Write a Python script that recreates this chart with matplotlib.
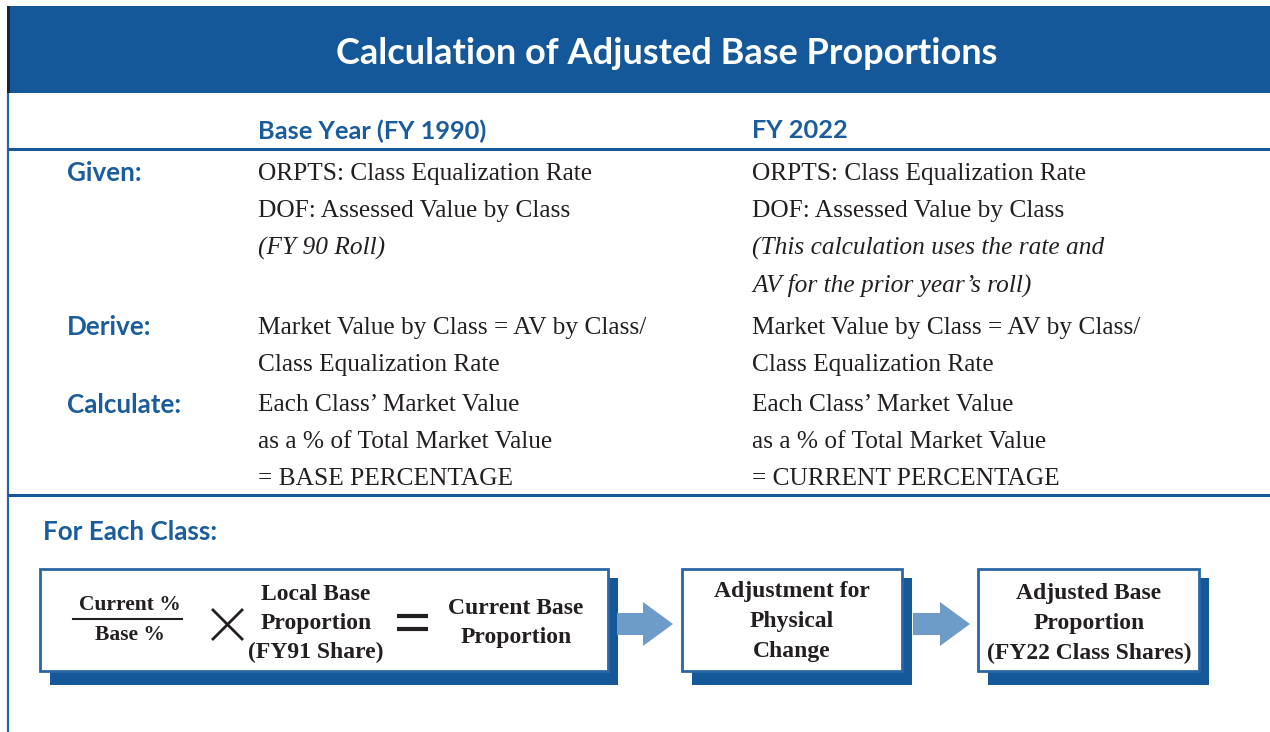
import matplotlib
matplotlib.use("Agg")
import matplotlib.pyplot as plt
from matplotlib.patches import Rectangle, FancyArrow

# ---------------- content ----------------
title = "Calculation of Adjusted Base Proportions"
column_headers = ["Base Year (FY 1990)", "FY 2022"]
row_labels = ["Given:", "Derive:", "Calculate:"]
given_base = ["ORPTS: Class Equalization Rate", "DOF: Assessed Value by Class", "(FY 90 Roll)"]
given_current = ["ORPTS: Class Equalization Rate", "DOF: Assessed Value by Class",
                 "(This calculation uses the rate and", "AV for the prior year\u2019s roll)"]
derive_lines = ["Market Value by Class = AV by Class/", "Class Equalization Rate"]
calc_base = ["Each Class\u2019 Market Value", "as a % of Total Market Value", "= BASE PERCENTAGE"]
calc_current = ["Each Class\u2019 Market Value", "as a % of Total Market Value", "= CURRENT PERCENTAGE"]
section_label = "For Each Class:"
fraction = ["Current %", "Base %"]
local_base = ["Local Base", "Proportion", "(FY91 Share)"]
current_base = ["Current Base", "Proportion"]
adjustment = ["Adjustment for", "Physical", "Change"]
adjusted = ["Adjusted Base", "Proportion", "(FY22 Class Shares)"]

# ---------------- styles ----------------
DARK = "#14589a"
TEXTBLUE = "#1b5c9c"
LIGHT = "#6c9cc7"
BORDER = "#2a66a6"
SANS = "Lato"
SERIF = "Liberation Serif"

fig = plt.figure(figsize=(12.7, 7.32), dpi=100)
ax = fig.add_axes([0, 0, 1, 1])
ax.set_xlim(0, 1270)
ax.set_ylim(732, 0)
ax.axis("off")

# header band
ax.add_patch(Rectangle((7, 6), 1263, 87, facecolor=DARK, edgecolor="none"))
ax.add_patch(Rectangle((7, 6), 2.5, 87, facecolor="#1c2430", edgecolor="none"))
ax.text(667, 54, title, color="white", fontsize=26, fontweight="bold",
        family=SANS, ha="center", va="center")

# frame lines
ax.plot([8, 8], [93, 732], color=BORDER, lw=1.6, solid_capstyle="butt")
ax.plot([8, 1270], [149, 149], color=DARK, lw=2.2, solid_capstyle="butt")
ax.plot([8, 1270], [495, 495], color=DARK, lw=2.2, solid_capstyle="butt")

# column headers
for s, x in zip(column_headers, [258, 752]):
    ax.text(x, 131, s, color=TEXTBLUE, fontsize=18.3, fontweight="bold",
            family=SANS, ha="left", va="center")

# row labels
for lab, y in zip(row_labels, [173, 327, 405]):
    ax.text(67, y, lab, color=TEXTBLUE, fontsize=18.7, fontweight="bold",
            family=SANS, ha="left", va="center")

LS = 37  # line step


def block(x, y0, lines, italic_from=None):
    for i, s in enumerate(lines):
        style = "italic" if (italic_from is not None and i >= italic_from) else "normal"
        ax.text(x, y0 + i * LS, s, color="#231f20", fontsize=18.3, family=SERIF,
                style=style, ha="left", va="center")


block(258, 174, given_base, italic_from=2)
block(752, 174, given_current, italic_from=2)
block(258, 328, derive_lines)
block(752, 328, derive_lines)
block(258, 405, calc_base)
block(752, 405, calc_current)

# section label
ax.text(43, 532, section_label, color=TEXTBLUE, fontsize=18.7, fontweight="bold",
        family=SANS, ha="left", va="center")

# boxes with shadows
boxes = [(40, 608), (682, 902), (978, 1199)]
for x0, x1 in boxes:
    ax.add_patch(Rectangle((x0 + 10, 578), x1 - x0, 107, facecolor=DARK, edgecolor="none"))
    ax.add_patch(Rectangle((x0, 569), x1 - x0, 102, facecolor="white",
                           edgecolor=BORDER, lw=2.0))

# arrows
for xs, xe in [(617, 673), (913, 970)]:
    ax.add_patch(FancyArrow(xs, 624, xe - xs, 0, width=22, head_width=44,
                            head_length=30, length_includes_head=True,
                            facecolor=LIGHT, edgecolor="none"))

BOXFS = 17


def centered(x, ys, lines, fs=BOXFS):
    for s, y in zip(lines, ys):
        ax.text(x, y, s, color="#231f20", fontsize=fs, family=SERIF, fontweight="bold",
                ha="center", va="center")


# fraction
centered(130, [605, 635], fraction, fs=15.5)
ax.plot([73, 182], [619, 619], color="#231f20", lw=1.5)
# multiply sign
ax.plot([213, 242], [610, 639], color="#231f20", lw=2.0)
ax.plot([213, 242], [639, 610], color="#231f20", lw=2.0)
centered(316, [594, 623, 652], local_base)
# equals sign
ax.plot([397, 428], [616, 616], color="#231f20", lw=3.0, solid_capstyle="butt")
ax.plot([397, 428], [629, 629], color="#231f20", lw=3.0, solid_capstyle="butt")
centered(516, [608, 638], current_base)
centered(792, [592, 621, 651], adjustment)
centered(1089, [594, 623, 653], adjusted)

fig.savefig("out.png", dpi=100, facecolor="white")
